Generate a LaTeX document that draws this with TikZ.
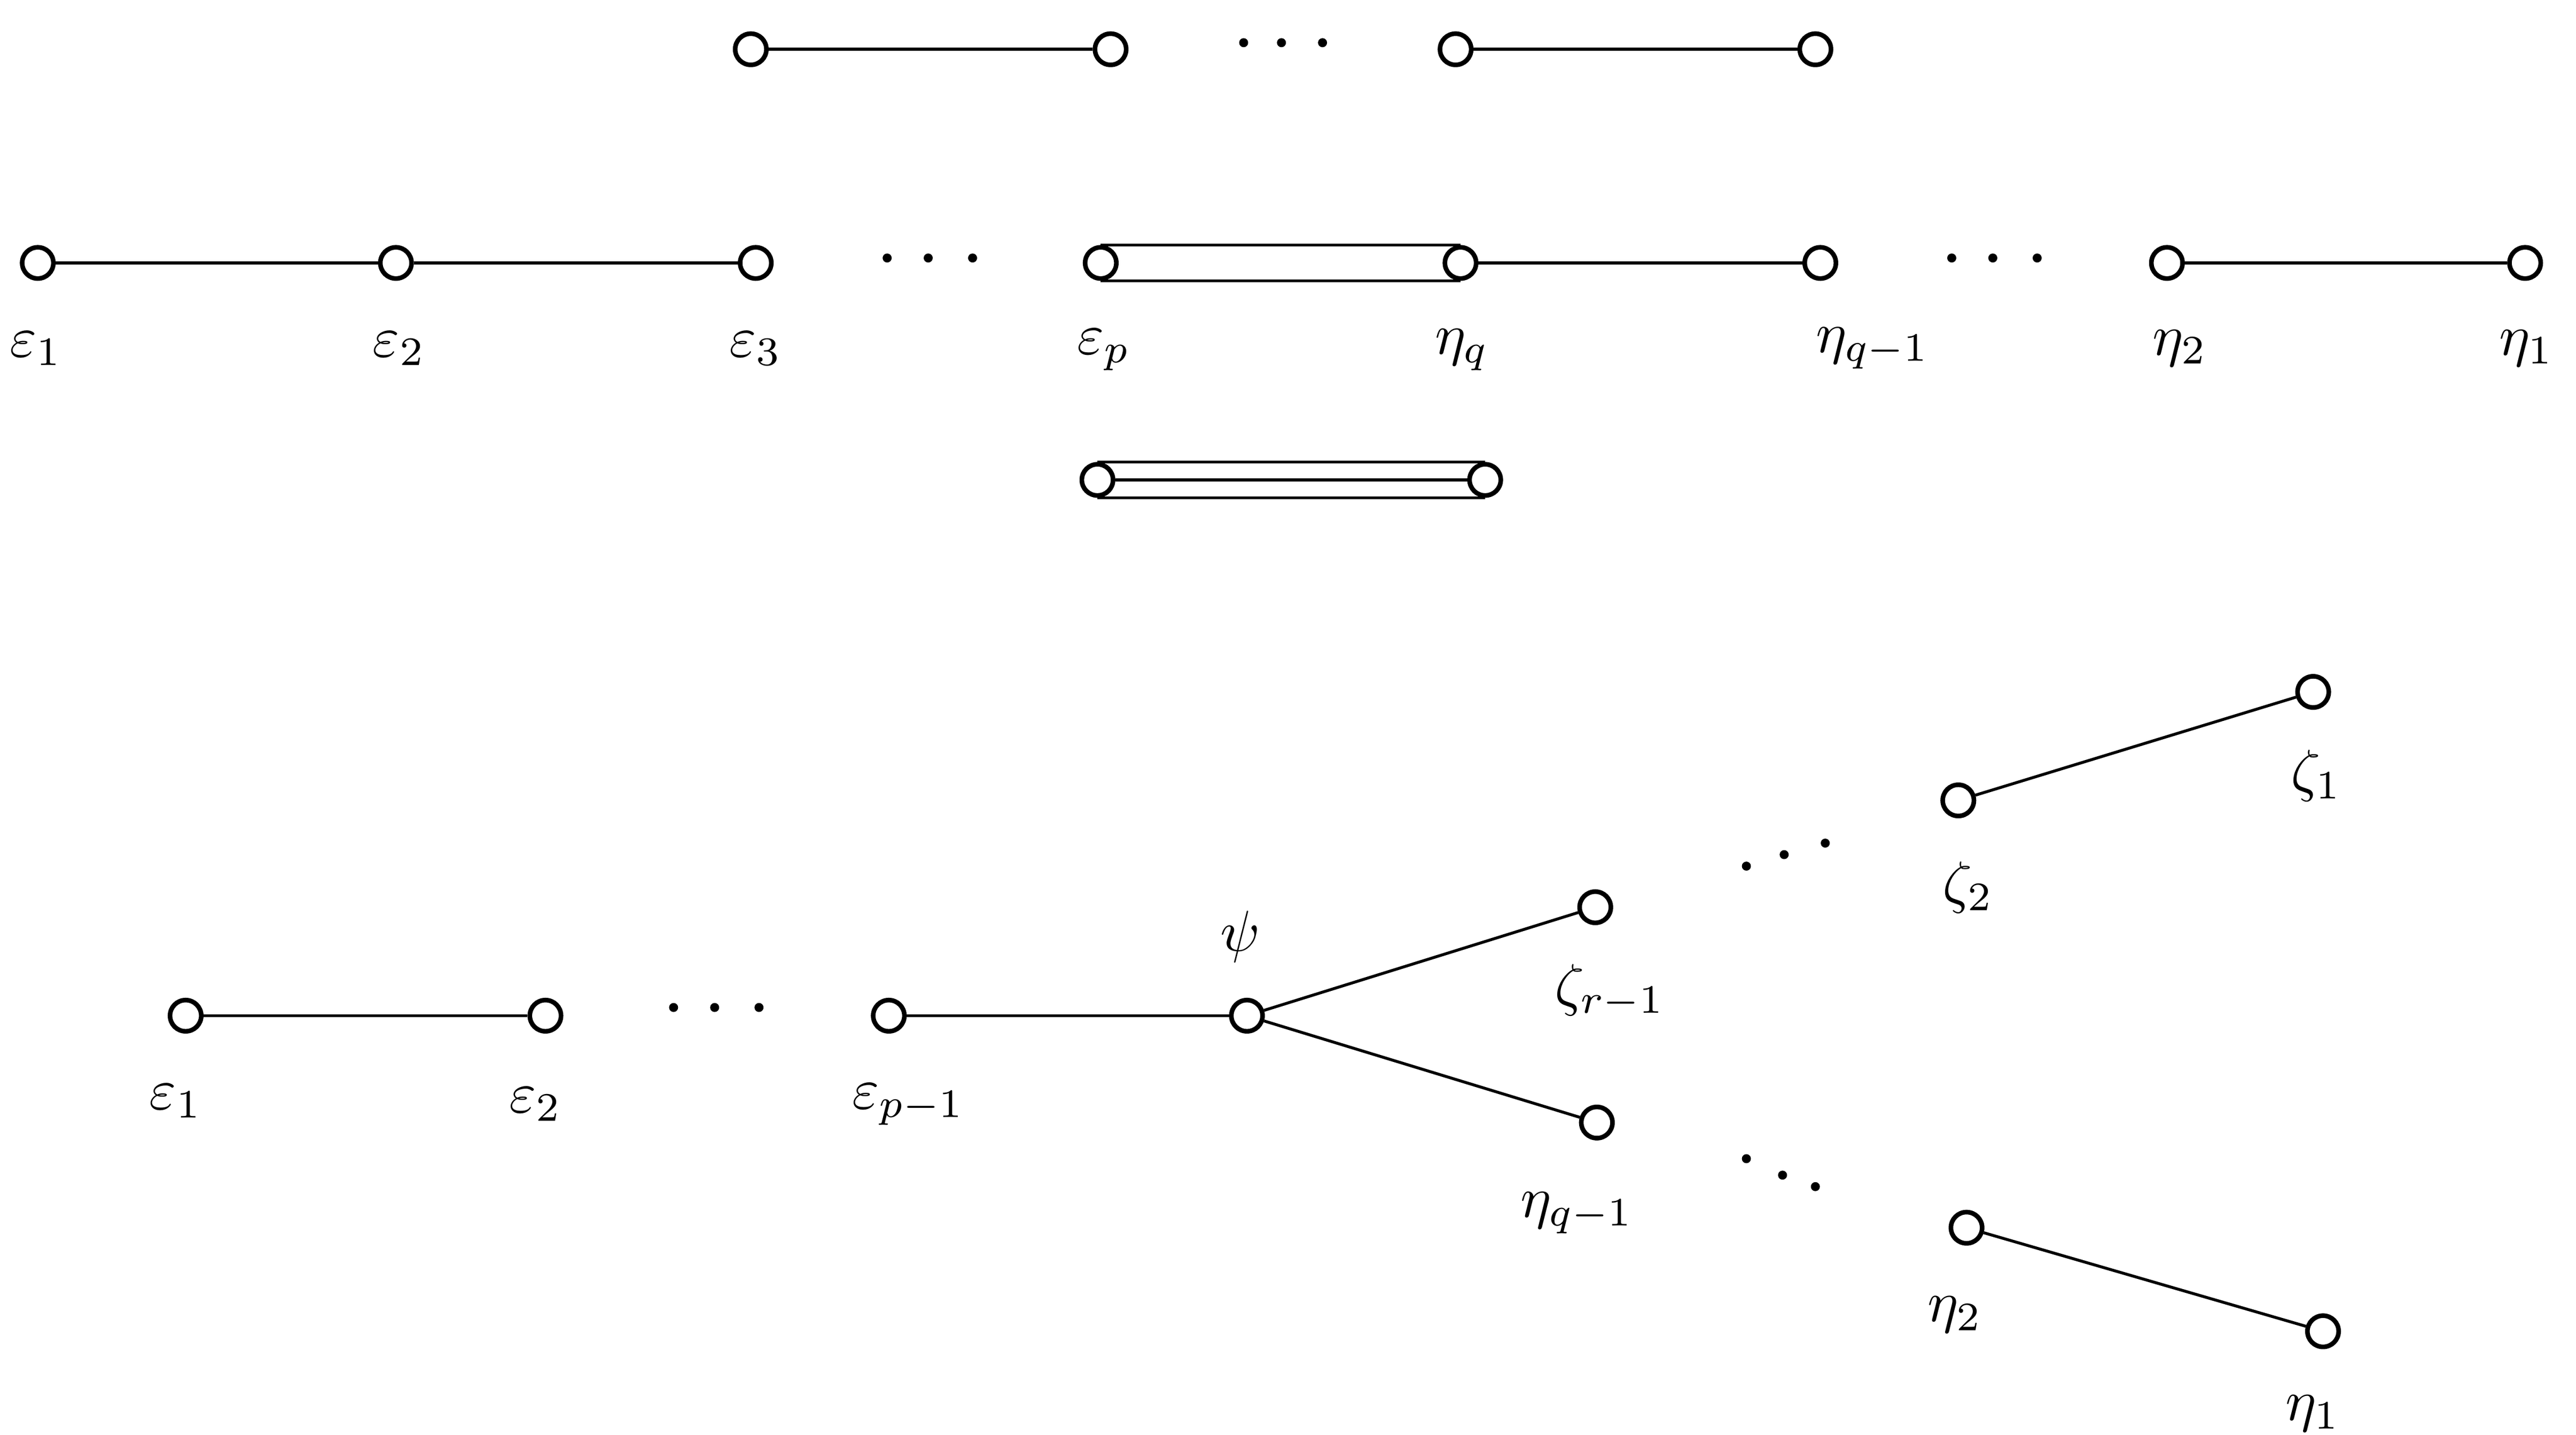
\documentclass[tikz,border=0pt]{standalone}
\usepackage{amsmath,amssymb}
\usepackage{tikz}
\usetikzlibrary{positioning, calc}

\begin{document}
\begin{tikzpicture}[
  vert/.style={draw, circle, fill=white, minimum size=0.19cm, inner sep=0pt, line width=0.8pt},
  dot/.style={fill, circle, minimum size=0.055cm, inner sep=0pt},
  lbl/.style={inner sep=1pt},
  edge/.style={line width=0.5pt}
]
\useasboundingbox (0,0) rectangle (15.68,8.73);

% Top row: two separate bonds
\node[vert] (ta) at (4.57, 8.43) {};
\node[vert] (tb) at (6.76, 8.43) {};
\node[vert] (tc) at (8.86, 8.43) {};
\node[vert] (td) at (11.05, 8.43) {};
\draw[edge] (ta) -- (tb);
\draw[edge] (tc) -- (td);
\foreach \x [count=\i] in {7.57, 7.80, 8.05} \node[dot] (tdot\i) at (\x, 8.47) {};

% Middle row: eps chain, double bond, eta chain
\node[vert] (e1) at (0.23, 7.13) {};
\node[vert] (e2) at (2.41, 7.13) {};
\node[vert] (e3) at (4.60, 7.13) {};
\node[vert] (ep) at (6.70, 7.13) {};
\node[vert] (nq) at (8.89, 7.13) {};
\node[vert] (nq1) at (11.08, 7.13) {};
\node[vert] (n2) at (13.19, 7.13) {};
\node[vert] (n1) at (15.37, 7.13) {};
\draw[edge] (e1) -- (e2) -- (e3);
\draw[edge] (ep.north) -- (nq.north);
\draw[edge] (ep.south) -- (nq.south);
\draw[edge] (nq) -- (nq1);
\draw[edge] (n2) -- (n1);
\foreach \x [count=\i] in {5.40, 5.65, 5.92} \node[dot] (mdota\i) at (\x, 7.16) {};
\foreach \x [count=\i] in {11.88, 12.13, 12.40} \node[dot] (mdotb\i) at (\x, 7.16) {};

\node[lbl] (le1) at (0.22, 6.61) {$\varepsilon_1$};
\node[lbl] (le2) at (2.43, 6.61) {$\varepsilon_2$};
\node[lbl] (le3) at (4.60, 6.61) {$\varepsilon_3$};
\node[lbl] (lep) at (6.72, 6.60) {$\varepsilon_p$};
\node[lbl] (lnq) at (8.90, 6.60) {$\eta_q$};
\node[lbl] (lnq1) at (11.40, 6.61) {$\eta_{q-1}$};
\node[lbl] (ln2) at (13.27, 6.61) {$\eta_2$};
\node[lbl] (ln1) at (15.38, 6.61) {$\eta_1$};

% Triple bond
\node[vert] (ua) at (6.68, 5.81) {};
\node[vert] (ub) at (9.04, 5.81) {};
\draw[edge] (ua.north) -- (ub.north);
\draw[edge] (ua.east) -- (ub.west);
\draw[edge] (ua.south) -- (ub.south);

% Bottom: branched diagram
\node[vert] (b1) at (1.13, 2.55) {};
\node[vert] (b2) at (3.32, 2.55) {};
\node[vert] (bp1) at (5.41, 2.55) {};
\node[vert] (psi) at (7.59, 2.55) {};
\node[vert] (zr1) at (9.71, 3.21) {};
\node[vert] (hq1) at (9.72, 1.90) {};
\node[vert] (z2) at (11.92, 3.86) {};
\node[vert] (z1) at (14.08, 4.52) {};
\node[vert] (h2) at (11.97, 1.26) {};
\node[vert] (h1) at (14.14, 0.63) {};
\draw[edge] (b1) -- (b2);
\draw[edge] (bp1) -- (psi);
\draw[edge] (psi) -- (zr1);
\draw[edge] (psi) -- (hq1);
\draw[edge] (z2) -- (z1);
\draw[edge] (h2) -- (h1);
\foreach \x [count=\i] in {4.10, 4.35, 4.62} \node[dot] (bdot\i) at (\x, 2.60) {};
\foreach \x/\y [count=\i] in {10.63/3.46, 10.86/3.53, 11.11/3.60} \node[dot] (zdot\i) at (\x, \y) {};
\foreach \x/\y [count=\i] in {10.63/1.68, 10.85/1.58, 11.05/1.51} \node[dot] (hdot\i) at (\x, \y) {};

\node[lbl] (lb1) at (1.07, 2.03) {$\varepsilon_1$};
\node[lbl] (lb2) at (3.26, 2.01) {$\varepsilon_2$};
\node[lbl] (lbp1) at (5.53, 2.01) {$\varepsilon_{p-1}$};
\node[lbl] (lpsi) at (7.55, 3.03) {$\psi$};
\node[lbl] (lzr1) at (9.80, 2.70) {$\zeta_{r-1}$};
\node[lbl] (lhq1) at (9.60, 1.35) {$\eta_{q-1}$};
\node[lbl] (lz2) at (11.98, 3.33) {$\zeta_2$};
\node[lbl] (lz1) at (14.10, 4.01) {$\zeta_1$};
\node[lbl] (lh2) at (11.90, 0.73) {$\eta_2$};
\node[lbl] (lh1) at (14.08, 0.13) {$\eta_1$};

\end{tikzpicture}
\end{document}
